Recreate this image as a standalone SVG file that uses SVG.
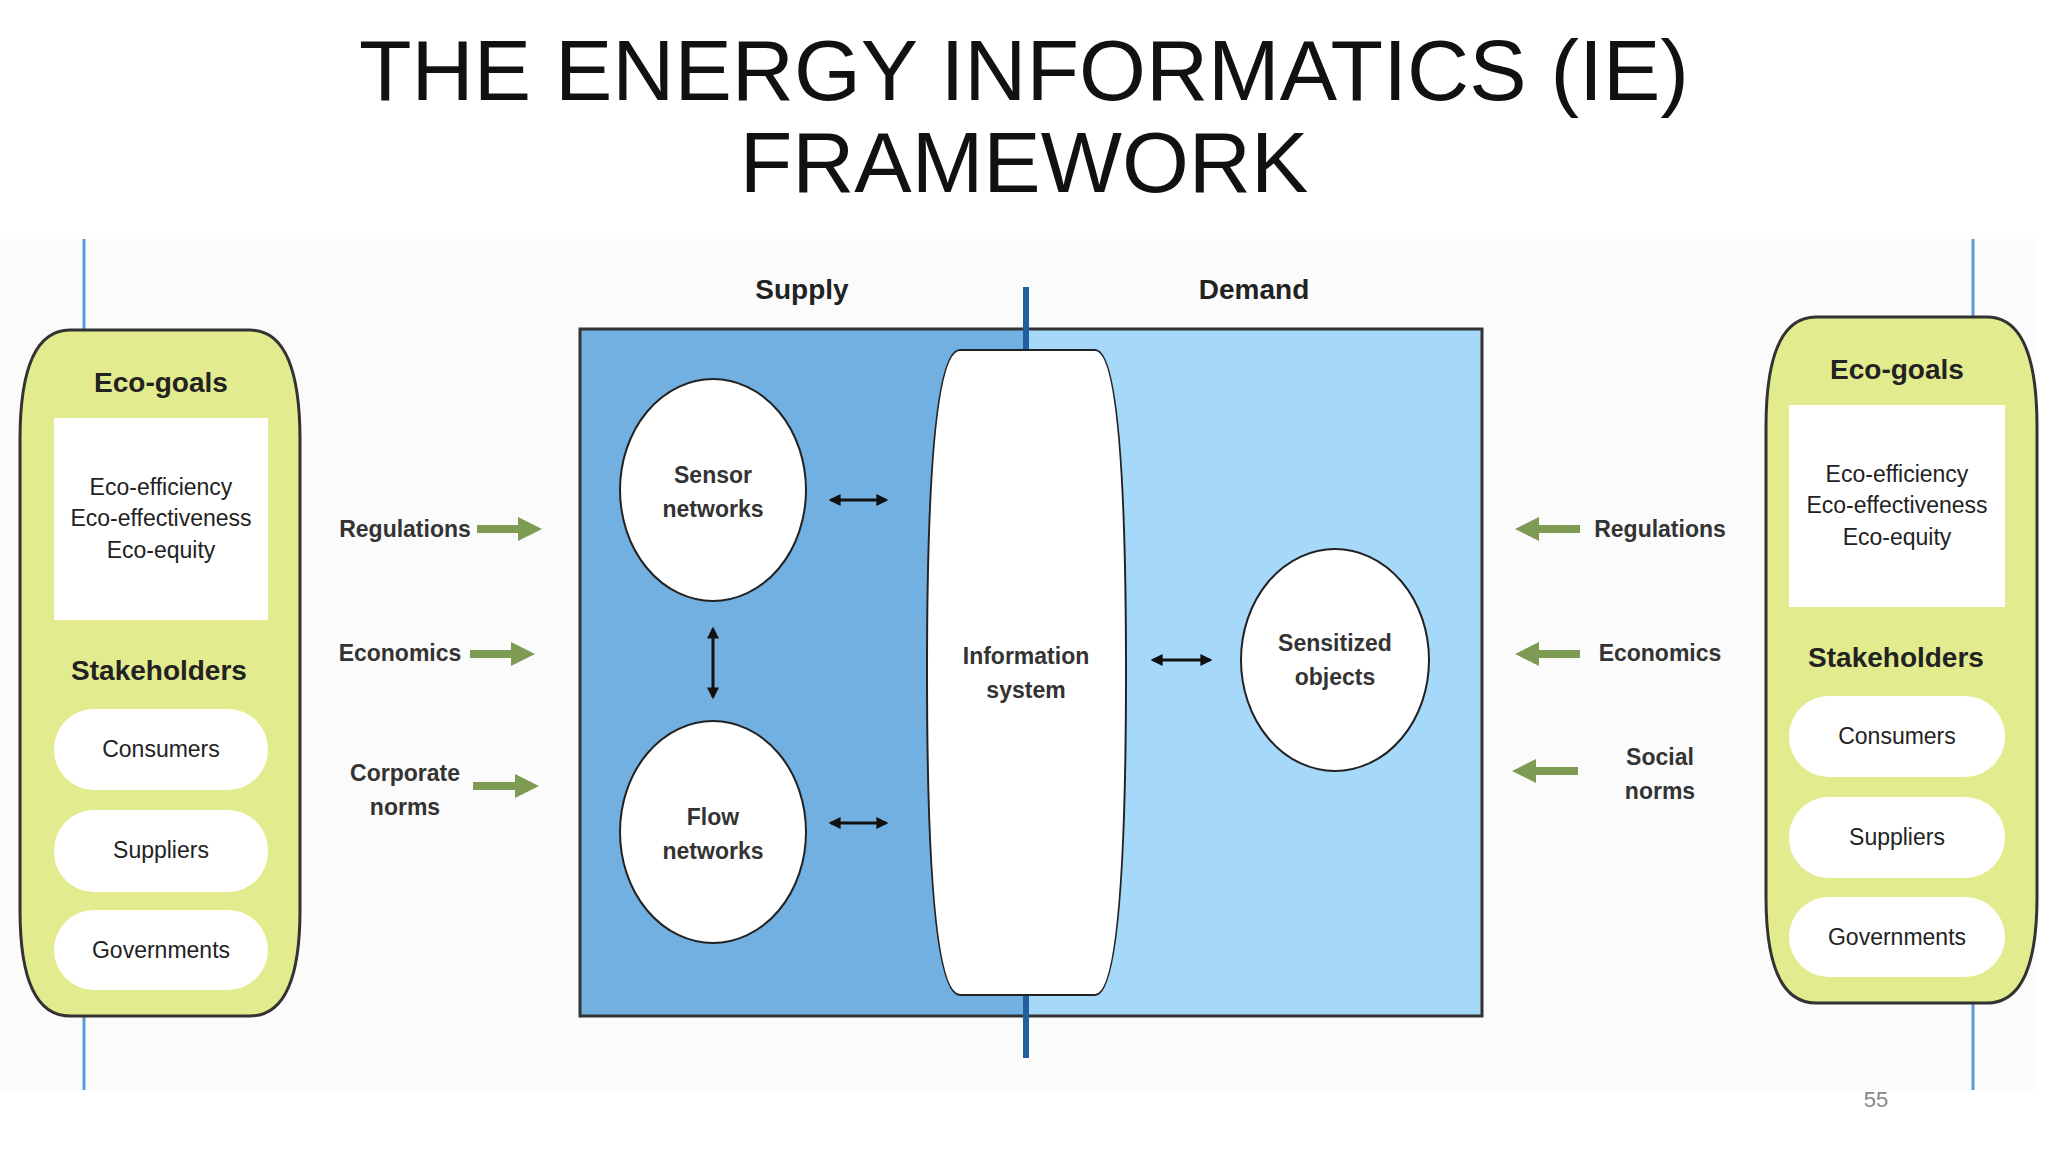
<svg xmlns="http://www.w3.org/2000/svg" width="2048" height="1152" viewBox="0 0 2048 1152">
<defs>
<style>
.t{font-family:"Liberation Sans",Arial,sans-serif;fill:#222;text-anchor:middle}
.l{font-size:23px;font-weight:bold;fill:#333}
.s{font-size:23px;fill:#222}
.h{font-size:28px;font-weight:bold}
.g{fill:#e2ec8e;stroke:#333;stroke-width:3}
.w{fill:#fff}
.c{fill:#fff;stroke:#222;stroke-width:2}
.ga{stroke:#7d9b52;stroke-width:8;fill:none}
.da{stroke:#111;stroke-width:3;fill:none;marker-start:url(#ah);marker-end:url(#ah)}
</style>
<marker id="ah" viewBox="0 0 10 10" refX="8" refY="5" markerWidth="4" markerHeight="4" orient="auto-start-reverse"><path d="M0,0 L10,5 L0,10 Z" fill="#111"/></marker>
<marker id="gh" viewBox="0 0 10 10" refX="5" refY="5" markerWidth="3" markerHeight="3.5" orient="auto"><path d="M0,0 L10,5 L0,10 Z" fill="#7d9b52"/></marker>
</defs>
<rect width="2048" height="1152" fill="#fff"/>
<rect x="0" y="239" width="2037" height="851" fill="#fbfbfb"/>
<text class="t" x="1024" y="100" font-size="86" fill="#111" style="fill:#111">THE ENERGY INFORMATICS (IE)</text>
<text class="t" x="1024" y="192" font-size="86" fill="#111" style="fill:#111">FRAMEWORK</text>
<line x1="84" y1="239" x2="84" y2="1090" stroke="#5b9bd5" stroke-width="3"/>
<line x1="1973" y1="239" x2="1973" y2="1090" stroke="#5b9bd5" stroke-width="3"/>
<g id="left-panel">
<path class="g" d="M70,330 L250,330 Q300,330 300,440 L300,910 Q300,1016 250,1016 L70,1016 Q20,1016 20,910 L20,440 Q20,330 70,330 Z"/>
<text class="t h" x="161" y="392" font-weight="normal">Eco-goals</text>
<rect class="w" x="54" y="418" width="214" height="202"/>
<text class="t s" x="161" y="495">Eco-efficiency</text>
<text class="t s" x="161" y="526">Eco-effectiveness</text>
<text class="t s" x="161" y="558">Eco-equity</text>
<text class="t h" x="159" y="680" font-weight="normal">Stakeholders</text>
<rect class="w" x="54" y="709" width="214" height="81" rx="40"/>
<text class="t s" x="161" y="757">Consumers</text>
<rect class="w" x="54" y="810" width="214" height="82" rx="40"/>
<text class="t s" x="161" y="858">Suppliers</text>
<rect class="w" x="54" y="910" width="214" height="80" rx="40"/>
<text class="t s" x="161" y="958">Governments</text>
</g>
<g id="right-panel">
<path class="g" d="M1816,317 L1987,317 Q2037,317 2037,427 L2037,897 Q2037,1003 1987,1003 L1816,1003 Q1766,1003 1766,897 L1766,427 Q1766,317 1816,317 Z"/>
<text class="t h" x="1897" y="379" font-weight="normal">Eco-goals</text>
<rect class="w" x="1789" y="405" width="216" height="202"/>
<text class="t s" x="1897" y="482">Eco-efficiency</text>
<text class="t s" x="1897" y="513">Eco-effectiveness</text>
<text class="t s" x="1897" y="545">Eco-equity</text>
<text class="t h" x="1896" y="667" font-weight="normal">Stakeholders</text>
<rect class="w" x="1789" y="696" width="216" height="81" rx="40"/>
<text class="t s" x="1897" y="744">Consumers</text>
<rect class="w" x="1789" y="797" width="216" height="81" rx="40"/>
<text class="t s" x="1897" y="845">Suppliers</text>
<rect class="w" x="1789" y="897" width="216" height="80" rx="40"/>
<text class="t s" x="1897" y="945">Governments</text>
</g>
<g id="main-box">
<rect x="580" y="329" width="446" height="687" fill="#72b0e2"/>
<rect x="1026" y="329" width="456" height="687" fill="#a6d8fa"/>
<rect x="580" y="329" width="902" height="687" fill="none" stroke="#333" stroke-width="3"/>
<line x1="1026" y1="287" x2="1026" y2="1058" stroke="#1f5fa0" stroke-width="6"/>
<text class="t h" x="802" y="299" font-size="27" font-weight="normal">Supply</text>
<text class="t h" x="1254" y="299" font-size="27" font-weight="normal">Demand</text>
</g>
<g id="info-system">
<path class="c" d="M960,350 L1095,350 Q1126,350 1126,672 Q1126,995 1095,995 L960,995 Q927,995 927,672 Q927,350 960,350 Z"/>
<text class="t l" x="1026" y="664">Information</text>
<text class="t l" x="1026" y="698">system</text>
</g>
<g id="sensor"><ellipse class="c" cx="713" cy="490" rx="93" ry="111"/><text class="t l" x="713" y="483">Sensor</text><text class="t l" x="713" y="517">networks</text></g>
<g id="flow"><ellipse class="c" cx="713" cy="832" rx="93" ry="111"/><text class="t l" x="713" y="825">Flow</text><text class="t l" x="713" y="859">networks</text></g>
<g id="sensitized"><ellipse class="c" cx="1335" cy="660" rx="94" ry="111"/><text class="t l" x="1335" y="651">Sensitized</text><text class="t l" x="1335" y="685">objects</text></g>
<g id="labels">
<text class="t l" x="405" y="537">Regulations</text>
<text class="t l" x="400" y="661">Economics</text>
<text class="t l" x="405" y="781">Corporate</text>
<text class="t l" x="405" y="815">norms</text>
<text class="t l" x="1660" y="537">Regulations</text>
<text class="t l" x="1660" y="661">Economics</text>
<text class="t l" x="1660" y="765">Social</text>
<text class="t l" x="1660" y="799">norms</text>
</g>
<g id="connectors">
<line class="da" x1="831" y1="500" x2="886" y2="500"/>
<line class="da" x1="713" y1="629" x2="713" y2="697"/>
<line class="da" x1="831" y1="823" x2="886" y2="823"/>
<line class="da" x1="1153" y1="660" x2="1210" y2="660"/>
<line class="ga" x1="477" y1="529" x2="530" y2="529" marker-end="url(#gh)"/>
<line class="ga" x1="470" y1="654" x2="523" y2="654" marker-end="url(#gh)"/>
<line class="ga" x1="473" y1="786" x2="527" y2="786" marker-end="url(#gh)"/>
<line class="ga" x1="1580" y1="529" x2="1527" y2="529" marker-end="url(#gh)"/>
<line class="ga" x1="1580" y1="654" x2="1527" y2="654" marker-end="url(#gh)"/>
<line class="ga" x1="1578" y1="771" x2="1524" y2="771" marker-end="url(#gh)"/>
</g>
<text class="t" x="1876" y="1107" font-size="22" style="fill:#888">55</text>
</svg>
